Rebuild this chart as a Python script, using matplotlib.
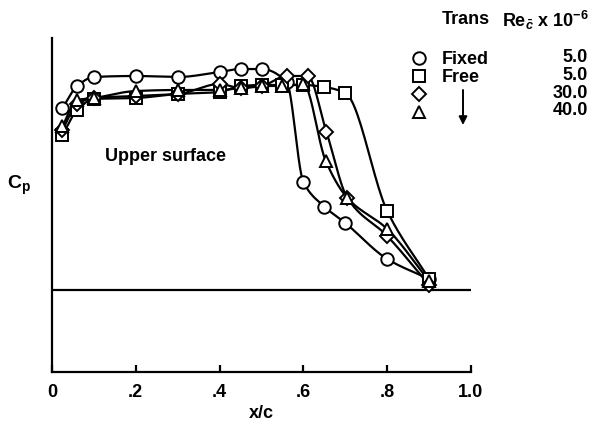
import numpy as np
import matplotlib
matplotlib.use("Agg")
import matplotlib.pyplot as plt

plt.rcParams['font.family'] = ['Liberation Sans', 'DejaVu Sans']
plt.rcParams['font.weight'] = 'bold'
plt.rcParams['axes.labelweight'] = 'bold'
plt.rcParams['mathtext.fontset'] = 'custom'
plt.rcParams['mathtext.rm'] = 'Liberation Sans:bold'
plt.rcParams['mathtext.it'] = 'Liberation Sans:italic:bold'
plt.rcParams['mathtext.bf'] = 'Liberation Sans:bold'

# Upper-surface pressure distributions, plotted as -Cp (upward)
x_fixed = [0.025, 0.06, 0.10, 0.20, 0.30, 0.40, 0.45, 0.50, 0.56, 0.60, 0.65, 0.70, 0.80, 0.90]
cp_fixed = [0.91, 1.02, 1.065, 1.07, 1.065, 1.09, 1.105, 1.105, 1.04, 0.54, 0.417, 0.335, 0.155, 0.055]

x_free = [0.025, 0.06, 0.10, 0.20, 0.30, 0.40, 0.45, 0.50, 0.55, 0.60, 0.65, 0.70, 0.80, 0.90]
cp_free = [0.775, 0.90, 0.955, 0.96, 0.98, 0.99, 1.02, 1.025, 1.025, 1.025, 1.015, 0.985, 0.395, 0.055]

x_re30 = [0.025, 0.06, 0.10, 0.20, 0.30, 0.40, 0.45, 0.50, 0.56, 0.61, 0.655, 0.705, 0.80, 0.90]
cp_re30 = [0.80, 0.93, 0.96, 0.97, 0.98, 1.03, 1.01, 1.02, 1.07, 1.07, 0.79, 0.46, 0.27, 0.025]

x_re40 = [0.025, 0.06, 0.10, 0.20, 0.30, 0.40, 0.45, 0.50, 0.55, 0.60, 0.653, 0.705, 0.80, 0.90]
cp_re40 = [0.82, 0.95, 0.96, 0.995, 1.0, 1.0, 1.01, 1.02, 1.02, 1.03, 0.647, 0.46, 0.305, 0.045]

trans_labels = ["Fixed", "Free", "", ""]
re_labels = ["5.0", "5.0", "30.0", "40.0"]
xtick_vals = [0, 0.2, 0.4, 0.6, 0.8, 1.0]
xtick_text = ["0", ".2", ".4", ".6", ".8", "1.0"]


def pchip(x, y, n=24):
    """Monotone cubic curve through the points, for drawing a faired line."""
    x = np.asarray(x, float)
    y = np.asarray(y, float)
    h = np.diff(x)
    d = np.diff(y) / h
    m = np.zeros_like(y)
    m[0], m[-1] = d[0], d[-1]
    for k in range(1, len(x) - 1):
        if d[k - 1] * d[k] <= 0:
            m[k] = 0.0
        else:
            w1 = 2 * h[k] + h[k - 1]
            w2 = h[k] + 2 * h[k - 1]
            m[k] = (w1 + w2) / (w1 / d[k - 1] + w2 / d[k])
    xs, ys = [], []
    for k in range(len(x) - 1):
        t = np.linspace(0, 1, n, endpoint=False)
        h00 = 2 * t**3 - 3 * t**2 + 1
        h10 = t**3 - 2 * t**2 + t
        h01 = -2 * t**3 + 3 * t**2
        h11 = t**3 - t**2
        xs.append(x[k] + t * h[k])
        ys.append(h00 * y[k] + h10 * h[k] * m[k] + h01 * y[k + 1] + h11 * h[k] * m[k + 1])
    xs.append([x[-1]])
    ys.append([y[-1]])
    return np.concatenate(xs), np.concatenate(ys)


W, H = 610, 431
FS = 13
fig = plt.figure(figsize=(W / 100, H / 100), dpi=100)
ax = fig.add_axes([52 / W, 1 - 373 / H, (471 - 52) / W, (373 - 39) / H])
ax.set_xlim(0, 1.0)
ax.set_ylim(-0.41, 1.26)

series = [
    (x_fixed, cp_fixed, 'o', 9.0),
    (x_free, cp_free, 's', 8.0),
    (x_re30, cp_re30, 'D', 7.5),
    (x_re40, cp_re40, '^', 8.5),
]

lw = 1.6
for i, (xs, ys, mk, ms) in enumerate(series):
    cx, cy = pchip(xs, ys)
    ax.plot(cx, cy, color='black', lw=lw, zorder=2 + i)
for i, (xs, ys, mk, ms) in enumerate(series):
    ax.plot(xs, ys, linestyle='none', marker=mk, ms=ms, mfc='white',
            mec='black', mew=1.4, zorder=10 + i)

# Cp = 0 reference line
ax.plot([0, 1.0], [0, 0], color='black', lw=1.6, zorder=1)

for s in ['top', 'right']:
    ax.spines[s].set_visible(False)
for s in ['left', 'bottom']:
    ax.spines[s].set_linewidth(1.6)
ax.set_yticks([])
ax.set_xticks(xtick_vals)
ax.set_xticklabels(xtick_text, fontsize=FS)
ax.tick_params(axis='x', direction='in', length=5, width=1.6, pad=8)
ax.set_xlabel('x/c', fontsize=FS, labelpad=3)

ax.text(0.126, 0.67, 'Upper surface', fontsize=FS, va='center', ha='left')

fig.text(7 / W, 1 - 185 / H, r'C$_\mathregular{p}$', fontsize=FS + 1, va='center', ha='left')

# Key block, laid out in figure pixels
key = fig.add_axes([0, 0, 1, 1], facecolor='none')
key.set_xlim(0, W)
key.set_ylim(H, 0)
key.axis('off')

key.text(442, 20, 'Trans', fontsize=FS, va='center', ha='left')
key.text(502, 20, r'Re$_{\bar{c}}$ x 10$^{-6}$', fontsize=FS, va='center', ha='left')
rows_y = [59, 77, 95, 113]
for (xs, ys, mk, ms), yy, tl, rl in zip(series, rows_y, trans_labels, re_labels):
    key.plot([419], [yy], linestyle='none', marker=mk, ms=ms, mfc='white',
             mec='black', mew=1.4)
    if tl:
        key.text(442, yy, tl, fontsize=FS, va='center', ha='left')
    key.text(588, yy - 2, rl, fontsize=FS, va='center', ha='right')
key.annotate('', xy=(463, 126), xytext=(463, 91),
             arrowprops=dict(arrowstyle='-|>', color='black', lw=1.4,
                             mutation_scale=12, shrinkA=0, shrinkB=0))

fig.savefig('out.png', dpi=100)
